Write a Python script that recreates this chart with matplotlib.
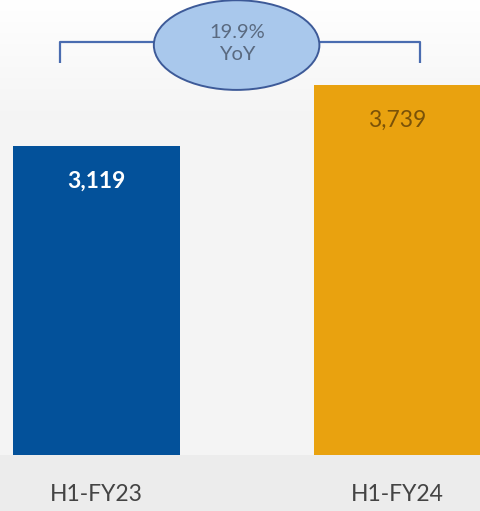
import numpy as np
import matplotlib.pyplot as plt
from matplotlib.patches import Ellipse

periods = ["H1-FY23", "H1-FY24"]
values = [3119, 3739]
value_labels = ["3,119", "3,739"]
growth_label = "19.9%\nYoY"

bar_colors = ["#03519a", "#e9a20f"]
label_colors = ["#ffffff", "#7a5208"]
label_weights = ["bold", "normal"]

plt.rcParams["font.family"] = ["Lato", "DejaVu Sans"]

fig = plt.figure(figsize=(4.81, 5.11), dpi=100, facecolor="#ececec")
ax = fig.add_axes([0, 56 / 511, 1, 455 / 511])

x = np.arange(len(periods))
ax.set_xlim(-0.3206, 1.2774)
ax.set_ylim(0, 4593)

# background: white at the top fading into a flat light grey
t = np.linspace(0, 1, 256)
shade = 1.0 - 0.04 * np.clip(t / 0.25, 0, 1)
bg = np.repeat(shade[:, None, None], 3, axis=2)
ax.imshow(bg, extent=(0, 1, 0, 1), transform=ax.transAxes, aspect="auto", zorder=0)

ax.bar(x, values, width=0.553, color=bar_colors, zorder=2)

for xi, v, lab, c, w in zip(x, values, value_labels, label_colors, label_weights):
    ax.text(xi, v - 360, lab, ha="center", va="center", fontsize=16.5,
            color=c, fontweight=w, zorder=3)

# YoY bracket
top = max(values) * 1.115
foot = max(values) * 1.058
left, right = x[0] - 0.121, x[1] + 0.074
ax.plot([left, left, right, right], [foot, top, top, foot], color="#4a6cb0",
        lw=1.6, solid_capstyle="butt", zorder=3, clip_on=False)
mid = 0.4655
ax.add_patch(Ellipse((mid, 4138), 0.55, 905, facecolor="#a9c8ec",
                     edgecolor="#3d5a98", lw=1.4, zorder=4, clip_on=False))
ax.text(mid + 0.003, 4150, growth_label, ha="center", va="center", fontsize=14.5,
        color="#5a6a80", linespacing=1.35, zorder=5)

ax.set_xticks(x)
ax.set_xticklabels(periods, fontsize=16.5, color="#444444")
ax.tick_params(axis="x", length=0, pad=21)
ax.set_yticks([])
for s in ax.spines.values():
    s.set_visible(False)

fig.savefig("out.png", dpi=100, facecolor=fig.get_facecolor())
